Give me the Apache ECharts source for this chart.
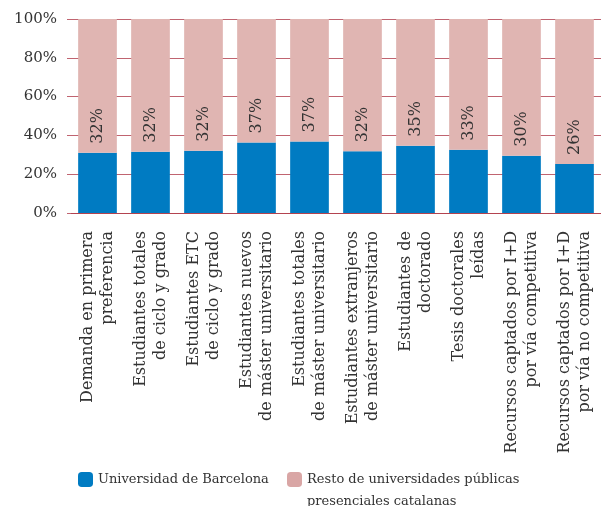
<!DOCTYPE html>
<html><head><meta charset="utf-8">
<script src="https://cdn.jsdelivr.net/npm/echarts@6/dist/echarts.min.js"></script>
<style>html,body{margin:0;padding:0;background:#fff}#c{width:601px;height:506px}</style>
</head><body><div id="c"></div>
<script>
const categories = [
  'Demanda en primera\npreferencia',
  'Estudiantes totales\nde ciclo y grado',
  'Estudiantes ETC\nde ciclo y grado',
  'Estudiantes nuevos\nde máster universitario',
  'Estudiantes totales\nde máster universitario',
  'Estudiantes extranjeros\nde máster universitario',
  'Estudiantes de\ndoctorado',
  'Tesis doctorales\nleídas',
  'Recursos captados por I+D\npor vía competitiva',
  'Recursos captados por I+D\npor vía no competitiva'
];
const ubValues = [31.1, 31.6, 32.1, 36.4, 36.9, 31.8, 34.7, 32.6, 29.5, 25.3];
const ubLabels = ['32%', '32%', '32%', '37%', '37%', '32%', '35%', '33%', '30%', '26%'];
const restValues = ubValues.map(v => 100 - v);
const yTicks = [0, 20, 40, 60, 80, 100];
const seriesNames = ['Universidad de Barcelona', 'Resto de universidades públicas\npresenciales catalanas'];

const FONT = 'DejaVu Serif';
const RED = '#b3434f';
const chart = echarts.init(document.getElementById('c'));
chart.setOption({
  animation: false,
  textStyle: {fontFamily: FONT},
  grid: {left: 71, top: 19, width: 534, height: 194, containLabel: false},
  legend: [{
    data: [{name: seriesNames[0]}],
    left: 78, top: 472, padding: 0, itemWidth: 15, itemHeight: 15, itemGap: 7,
    textStyle: {fontFamily: FONT, fontSize: 13, color: '#333'}
  }, {
    data: [{name: seriesNames[1], itemStyle: {color: '#d9a6a5'}}],
    left: 287, top: 446.5, padding: 0, itemWidth: 15, itemHeight: 15, itemGap: 7,
    formatter: name => '\n' + name,
    textStyle: {fontFamily: FONT, fontSize: 13, color: '#333', lineHeight: 22}
  }],
  xAxis: {
    type: 'category', data: categories,
    axisLine: {lineStyle: {color: RED, width: 1}},
    axisTick: {show: false},
    axisLabel: {rotate: 90, margin: 18, fontFamily: FONT, fontSize: 16, color: '#333', lineHeight: 20, align: 'right', verticalAlign: 'middle', interval: 0}
  },
  yAxis: {
    type: 'value', min: 0, max: 100, interval: 20,
    axisLine: {show: false},
    axisTick: {show: true, length: 4, lineStyle: {color: '#c06470'}},
    splitLine: {lineStyle: {color: '#c06470', width: 1}},
    axisLabel: {margin: 14, fontFamily: FONT, fontSize: 15, color: '#333', formatter: v => yTicks.includes(v) ? v + '%' : ''}
  },
  series: [{
    name: seriesNames[0], type: 'bar', stack: 'a', data: ubValues,
    barCategoryGap: '27%',
    itemStyle: {color: '#007bc2'}
  }, {
    name: seriesNames[1], type: 'bar', stack: 'a', data: restValues,
    itemStyle: {color: '#e0b5b2'},
    label: {
      show: true, position: 'insideBottom', rotate: 90, distance: 9,
      align: 'left', verticalAlign: 'middle',
      fontFamily: FONT, fontSize: 16, color: '#333',
      formatter: p => ubLabels[p.dataIndex]
    }
  }]
});
</script></body></html>
